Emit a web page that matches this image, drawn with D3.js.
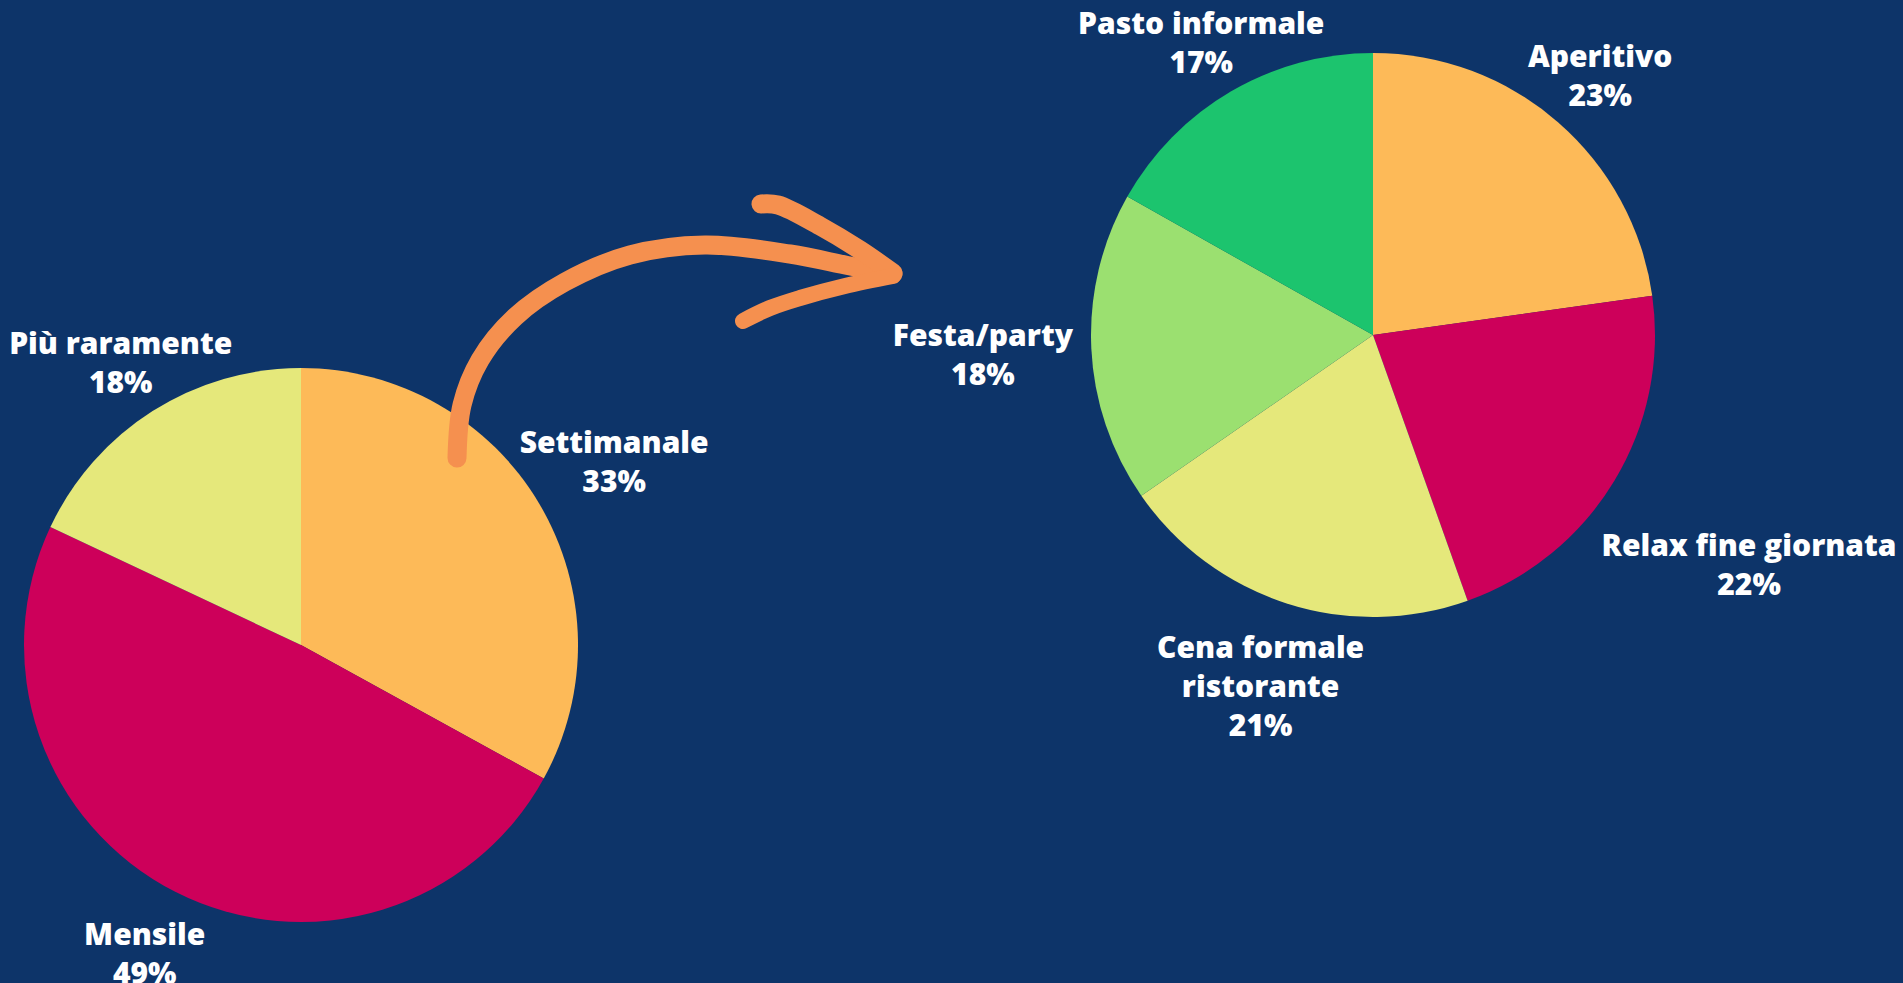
<!DOCTYPE html>
<html>
<head>
<meta charset="utf-8">
<style>
  body { margin: 0; background: #0d3469; font-family: 'Open Sans', sans-serif; }
  svg { display: block; }
  .lbl { fill: #fff; font-weight: 800; font-size: 30px; }
</style>
</head>
<body>
<svg width="1903" height="983"></svg>
<script src="https://d3js.org/d3.v7.min.js"></script>
<script>
// frequency (left pie)
var freqLabels = ["Settimanale", "Mensile", "Più raramente"];
var freqValues = [33, 49, 18];
var freqColors = ["#fdba58", "#cd005a", "#e5e87b"];

// occasion (right pie)
var useLabels = ["Aperitivo", "Relax fine giornata", "Cena formale\nristorante", "Festa/party", "Pasto informale"];
var useValues = [23, 22, 21, 18, 17];
var useColors = ["#fdba58", "#cd005a", "#e5e87b", "#9be070", "#1cc46e"];

// extra radial push for a few labels (layout only)
var freqPush = [0, 10, 0];
var usePush = [0, 72, 10, 0, 0];

var svg = d3.select("svg");
svg.append("rect").attr("width", 1903).attr("height", 983).attr("fill", "#0d3469");

function drawPie(labels, values, colors, push, cx, cy, r) {
  var data = labels.map(function(l, i) { return {label: l, value: values[i], color: colors[i], push: push[i]}; });
  var pie = d3.pie().sort(null).value(function(d) { return d.value; });
  var arc = d3.arc().innerRadius(0).outerRadius(r);
  var g = svg.append("g").attr("transform", "translate(" + cx + "," + cy + ")");
  var arcs = pie(data);

  g.selectAll("path")
    .data(arcs)
    .enter().append("path")
      .attr("d", arc)
      .attr("fill", function(d) { return d.data.color; });

  // labels pushed out along the slice's mid angle until the box clears the pie
  var gap = 18, lh = 39;
  arcs.forEach(function(d) {
    var a = (d.startAngle + d.endAngle) / 2,
        ux = Math.sin(a), uy = -Math.cos(a);
    var lines = d.data.label.split("\n").concat([d.data.value + "%"]);
    var t = g.append("text").attr("class", "lbl").attr("text-anchor", "middle");
    lines.forEach(function(s, i) {
      t.append("tspan").attr("x", 0).attr("y", i * lh).text(s);
    });
    var bb = t.node().getBBox();
    var hw = bb.width / 2, hh = (lines.length * lh - 8) / 2;
    var dist = r + gap + d.data.push + Math.min(Math.abs(ux) > 1e-6 ? hw / Math.abs(ux) : 1e9,
                                  Math.abs(uy) > 1e-6 ? hh / Math.abs(uy) : 1e9);
    var tx = dist * ux, ty = dist * uy;
    var blockTop = -22;
    var blockMid = blockTop + (lines.length * lh - 8) / 2 - 6;
    t.attr("transform", "translate(" + tx + "," + (ty - blockMid) + ")");
  });
}

drawPie(freqLabels, freqValues, freqColors, freqPush, 301, 645, 277);
drawPie(useLabels, useValues, useColors, usePush, 1373, 335, 282);

// hand-drawn arrow between the two pies
var arrowLine = d3.line().curve(d3.curveCatmullRom.alpha(0.5));
var shaft = [[457, 458], [462, 405], [480, 360], [515, 317], [565, 282], [630, 255], [705, 245], [790, 254], [850, 266], [893, 274]];
var upper = [[761, 204], [778, 205], [820, 226], [860, 250], [893, 273]];
var lower = [[893, 276], [845, 286], [800, 298], [770, 308], [743, 321]];

svg.append("path")
  .attr("d", arrowLine(shaft))
  .attr("fill", "none").attr("stroke", "#f5904f")
  .attr("stroke-width", 19).attr("stroke-linecap", "round").attr("stroke-linejoin", "round");
svg.append("path")
  .attr("d", arrowLine(upper))
  .attr("fill", "none").attr("stroke", "#f5904f")
  .attr("stroke-width", 19).attr("stroke-linecap", "round").attr("stroke-linejoin", "round");
svg.append("path")
  .attr("d", arrowLine(lower))
  .attr("fill", "none").attr("stroke", "#f5904f")
  .attr("stroke-width", 16).attr("stroke-linecap", "round").attr("stroke-linejoin", "round");
</script>
</body>
</html>
